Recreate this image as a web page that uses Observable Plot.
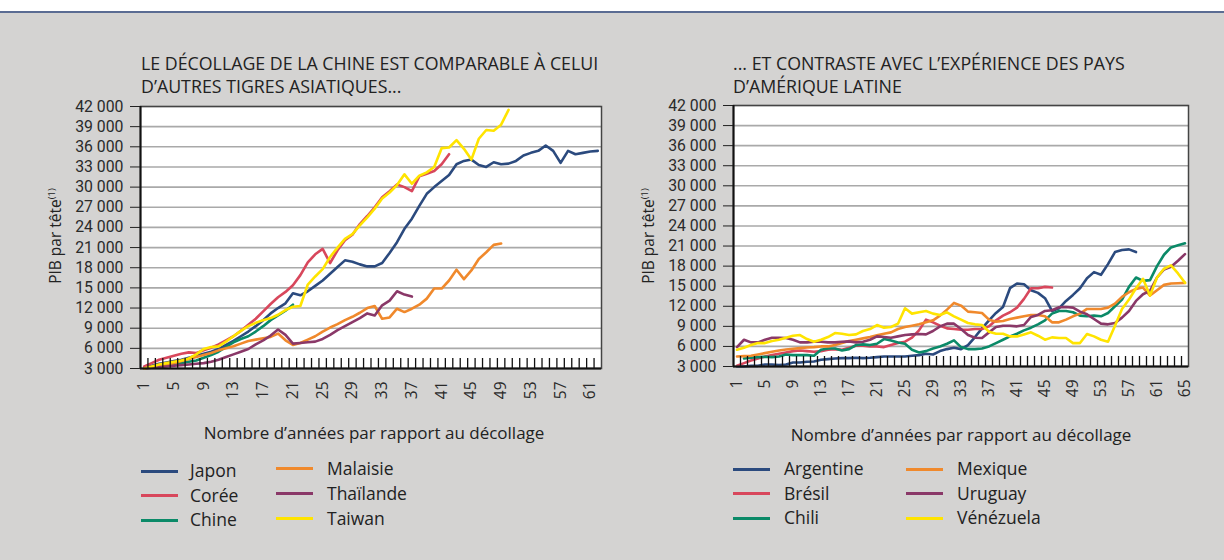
<!DOCTYPE html>
<html><head><meta charset="utf-8">
<script src="https://cdn.jsdelivr.net/npm/d3@7"></script>
<script src="https://cdn.jsdelivr.net/npm/@observablehq/plot@0.6"></script>
<style>
html,body{margin:0;padding:0;}
body{width:1224px;height:560px;position:relative;background:#d4d3d2;overflow:hidden;font-family:"Open Sans","Noto Sans",sans-serif;color:#222;}
#topbar{position:absolute;left:0;top:0;width:1224px;height:11px;background:#fff;border-bottom:2px solid #5a6c93;}
.title{position:absolute;font-size:17.8px;line-height:23px;white-space:nowrap;}
.xlab{position:absolute;font-size:17px;white-space:nowrap;transform:translateX(-50%);}
.ylab{position:absolute;font-size:15.5px;white-space:nowrap;transform:translate(-50%,-50%) rotate(-90deg);}
.ylab sup{font-size:9.5px;}
.panel{position:absolute;}
.leg{position:absolute;font-size:17.5px;white-space:nowrap;}
.leg .sw{position:absolute;width:37px;height:3px;}
.leg .lb{position:absolute;}
.ytk text{font-family:Roboto,"Liberation Sans",sans-serif;}
</style></head>
<body>
<div id="topbar"></div>
<div class="title" style="left:141px;top:52px;">LE DÉCOLLAGE DE LA CHINE EST COMPARABLE À CELUI<br>D’AUTRES TIGRES ASIATIQUES...</div>
<div class="title" style="left:733px;top:52px;">... ET CONTRASTE AVEC L’EXPÉRIENCE DES PAYS<br>D’AMÉRIQUE LATINE</div>
<div class="ylab" style="left:55px;top:236px;">PIB par tête<sup>(1)</sup></div>
<div class="ylab" style="left:648px;top:236px;">PIB par tête<sup>(1)</sup></div>
<div class="xlab" style="left:374px;top:421px;">Nombre d’années par rapport au décollage</div>
<div class="xlab" style="left:961px;top:423px;">Nombre d’années par rapport au décollage</div>
<div id="left" class="panel" style="left:0px;top:96px;"></div>
<div id="right" class="panel" style="left:600px;top:95px;"></div>
<div id="legL" class="leg"></div>
<div id="legR" class="leg"></div>
<script>
// ---- Axis values ----
const yTicks = [3000, 6000, 9000, 12000, 15000, 18000, 21000, 24000, 27000, 30000, 33000, 36000, 39000, 42000];
const xLabelsLeft = [1, 5, 9, 13, 17, 21, 25, 29, 33, 37, 41, 45, 49, 53, 57, 61];
const xLabelsRight = [1, 5, 9, 13, 17, 21, 25, 29, 33, 37, 41, 45, 49, 53, 57, 61, 65];

// ---- Asian series (PIB par tête, année 1 = décollage) ----
const asiaNames = ["Japon", "Corée", "Chine", "Malaisie", "Thaïlande", "Taiwan"];
const japon = [3100,3400,3700,3900,4100,4300,4600,4900,5200,5500,5900,6500,7100,7800,8500,9300,10200,11200,12000,12700,14200,13900,14500,15300,16100,17100,18100,19100,18900,18500,18200,18200,18700,20200,21800,23800,25300,27200,29000,30000,30900,31800,33400,33900,34100,33300,33000,33700,33400,33500,33900,34700,35100,35400,36200,35400,33600,35400,34900,35100,35300,35400];
const coree = [3300,3800,4300,4600,4900,5200,5400,5300,5700,6100,6600,7200,7800,8600,9500,10400,11500,12600,13600,14400,15400,16900,18800,20000,20800,18700,20600,22100,22900,24500,25700,27000,28500,29400,30400,30000,29400,31600,32000,32400,33400,34900];
const chine = [3000,3200,3400,3600,3700,3800,4000,4200,4600,5000,5500,6200,6900,7400,7800,8500,9300,10200,10900,11600,12500];
const malaisie = [3000,3200,3400,3600,3800,4100,4400,4700,5000,5300,5700,6000,6300,6700,7100,7300,7500,7700,8200,7200,6500,6800,7300,7800,8500,9100,9600,10200,10700,11300,12000,12300,10400,10600,11900,11400,11900,12500,13400,14900,14900,16100,17700,16300,17600,19300,20300,21400,21600];
const thailande = [3000,3100,3200,3300,3400,3500,3600,3700,3800,4000,4300,4700,5100,5500,5900,6600,7200,7900,8800,8000,6700,6800,6900,7000,7400,8000,8700,9300,9900,10500,11200,10900,12400,13100,14500,14000,13700];
const taiwan = [3000,3300,3600,3800,4000,4200,4500,5100,5900,6200,6300,7000,7800,8600,9300,9800,10200,10500,11000,11700,12200,12300,15500,16700,17800,19600,21000,22300,23000,24300,25500,26800,28300,29200,30300,31900,30500,31700,32200,33000,35800,35900,37000,35700,34100,37200,38500,38400,39300,41500];

// ---- Latin American series ----
const latamNames = ["Argentine", "Brésil", "Chili", "Mexique", "Uruguay", "Vénézuela"];
const argentine = [3000,3000,3100,3100,3300,3300,3200,3300,3600,3600,3700,3750,4000,4100,4200,4250,4250,4300,4250,4300,4400,4500,4500,4500,4500,4600,4700,4900,4800,5300,5600,5800,5600,6200,7400,8700,9900,11000,11900,14700,15400,15300,14400,14000,13200,11300,11700,12800,13700,14700,16200,17100,16700,18300,20100,20400,20500,20100];
const bresil = [3100,3500,3900,4200,4500,4700,4900,5100,5300,5400,5300,5200,5300,5500,5600,5500,5800,6100,6100,6000,6000,5900,6200,6500,6700,7300,8400,10000,9600,9100,8700,8600,8500,8500,8600,8600,9000,9900,10600,11100,11800,13100,14700,14700,14900,14800];
const chiliStart = 2;
const chili = [4200,4300,4400,4450,4400,4500,4800,4700,4700,4700,4600,5500,5700,5700,5400,5600,6200,6300,6200,6400,7100,6900,6600,6400,5500,5100,5300,5700,6000,6400,6900,5900,5600,5600,5700,6000,6500,7000,7500,7900,8400,8800,9300,9900,10900,11300,11300,11100,10600,10500,10600,10500,11000,12000,13000,14900,16300,15800,15900,18000,19700,20800,21100,21400];
const mexique = [4500,4550,4600,4800,5000,5200,5400,5550,5650,5750,5850,5900,6000,6000,6200,6500,6800,7000,7200,7400,7650,7900,8100,8600,8900,9100,9300,9600,9900,10600,11500,12500,12100,11200,11100,11000,10000,9700,9800,10100,10300,10500,10700,10700,10500,9600,9600,10000,10500,10900,11600,11600,11600,11800,12400,13400,14100,14600,14800,13600,14400,15200,15400,15450,15500];
const uruguay = [5900,7000,6600,6600,7000,7300,7300,7250,7000,6600,6600,6700,6700,6600,6600,6700,6750,6600,6700,7000,7500,7400,7300,7500,7700,7800,7850,7800,8300,9000,9400,9400,8600,7700,7300,7250,8100,8900,9100,9100,9000,9200,10400,10700,11300,11400,11850,11900,11800,11200,10800,10100,9400,9300,9500,10300,11300,12800,13800,14300,16300,17500,17900,18800,19800];
const venezuela = [5500,5800,6200,6500,6500,6800,7000,7300,7600,7700,7100,6700,7000,7400,8000,7900,7700,7800,8300,8600,9200,8800,8900,9400,11700,10900,11100,11300,10900,10700,11100,10500,10000,9500,9300,9200,8200,7900,7900,7500,7500,7800,8100,7600,7000,7350,7250,7250,6500,6500,7850,7500,7000,6700,9100,11600,13000,14700,16100,13600,16300,17600,18100,16900,15500];

const colors = ["#2b4a7e", "#d8475c", "#0b8a68", "#f0892c", "#8a3868", "#ffe400"];

function toRows(name, arr, start = 1) {
  return arr.map((v, i) => ({name, year: start + i, value: v}));
}
const asiaRows = [
  ...toRows("Japon", japon), ...toRows("Corée", coree), ...toRows("Chine", chine),
  ...toRows("Malaisie", malaisie), ...toRows("Thaïlande", thailande), ...toRows("Taiwan", taiwan)
];
const latamRows = [
  ...toRows("Argentine", argentine), ...toRows("Brésil", bresil), ...toRows("Chili", chili, chiliStart),
  ...toRows("Mexique", mexique), ...toRows("Uruguay", uruguay), ...toRows("Vénézuela", venezuela)
];

const fmt = d => d3.format(",")(d).replace(",", " ");

function panel(rows, names, nYears, xLabels, opts) {
  const minorTicks = d3.range(1.5, nYears, 1);
  return Plot.plot({
    width: opts.width, height: opts.height,
    marginLeft: opts.marginLeft, marginRight: opts.marginRight,
    marginTop: opts.marginTop, marginBottom: opts.marginBottom,
    style: {background: "transparent", fontFamily: "'Open Sans','Noto Sans',sans-serif", color: "#2a2a2a", overflow: "visible"},
    x: {domain: [0.5, nYears + 0.5], label: null},
    y: {domain: [3000, 42000], label: null},
    color: {domain: names, range: colors},
    marks: [
      Plot.frame({fill: "#fff", stroke: "none"}),
      Plot.gridY(yTicks, {stroke: "#a9a9a9", strokeOpacity: 1, strokeWidth: 1.6}),
      Plot.lineY(rows, {x: "year", y: "value", z: "name", stroke: "name", strokeWidth: 2.6, curve: "linear"}),
      Plot.axisX({ticks: minorTicks, tickSize: -10, tickFormat: () => "", label: null, stroke: "#111", strokeWidth: 1.3}),
      Plot.axisX({ticks: xLabels, tickSize: 0, tickRotate: -90, tickPadding: 13, fontSize: 15.5, label: null, tickFormat: d => String(d)}),
      Plot.axisY({ticks: yTicks, tickSize: 10, tickPadding: 7, fontSize: 15.8, label: null, tickFormat: fmt, stroke: "#222", className: "ytk"}),
      Plot.frame({stroke: "#444", strokeWidth: 1.5}),
      Plot.ruleY([3000], {stroke: "#111", strokeWidth: 2}),
      Plot.ruleX([0.5], {stroke: "#111", strokeWidth: 2})
    ]
  });
}

document.getElementById("left").append(panel(asiaRows, asiaNames, 62, xLabelsLeft,
  {width: 610, height: 320, marginLeft: 140, marginRight: 9, marginTop: 10, marginBottom: 48}));
document.getElementById("right").append(panel(latamRows, latamNames, 65, xLabelsRight,
  {width: 598, height: 320, marginLeft: 133, marginRight: 10, marginTop: 10, marginBottom: 49}));

function legend(el, names, cols) {
  names.forEach((n, i) => {
    const c = cols[Math.floor(i / 3)];
    const r = i % 3;
    const y = c.y0 + r * c.dy;
    const sw = document.createElement("div");
    sw.className = "sw";
    sw.style.cssText = `left:${c.lx}px;top:${y - 1.5}px;background:${colors[i]}`;
    const lb = document.createElement("div");
    lb.className = "lb";
    lb.style.cssText = `left:${c.tx}px;top:${y - 13}px;`;
    lb.textContent = n;
    el.append(sw, lb);
  });
}
legend(document.getElementById("legL"), asiaNames, [{lx: 141, tx: 190, y0: 471, dy: 24.5}, {lx: 276, tx: 327, y0: 468.5, dy: 25}]);
legend(document.getElementById("legR"), latamNames, [{lx: 733, tx: 784, y0: 469, dy: 24.5}, {lx: 906, tx: 957, y0: 469, dy: 24.5}]);
</script>
</body></html>
